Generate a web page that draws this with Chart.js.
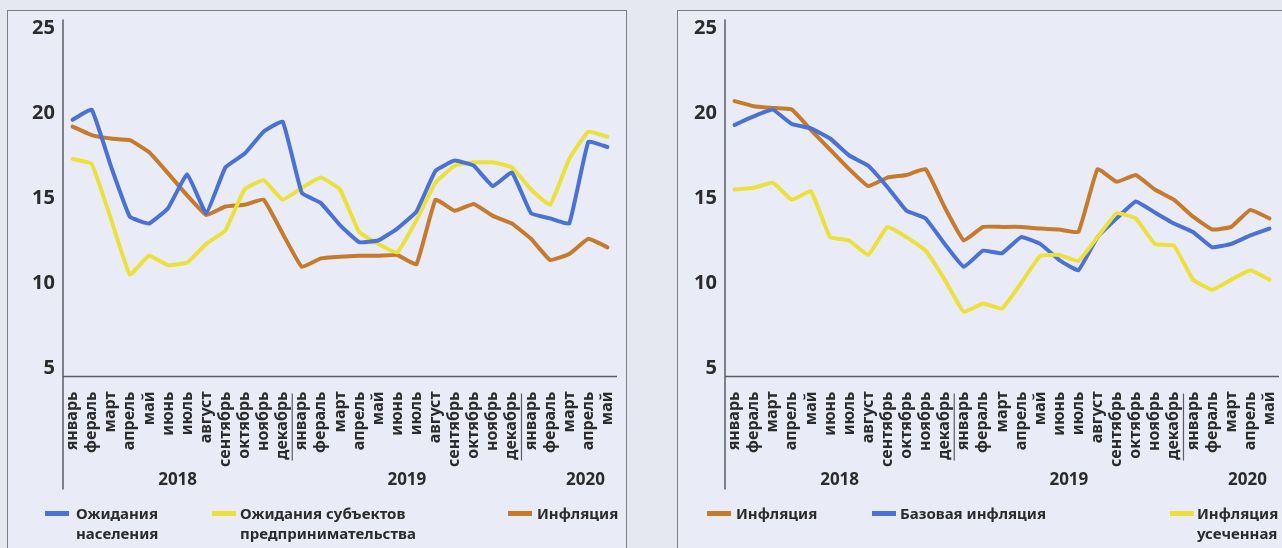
<!DOCTYPE html>
<html lang="ru">
<head>
<meta charset="utf-8">
<script src="https://cdn.jsdelivr.net/npm/chart.js@4.4.1/dist/chart.umd.min.js"></script>
<style>
  body { margin: 0; width: 1282px; height: 548px; background: #e6e8f1; overflow: hidden; position: relative;
         font-family: "Noto Sans", sans-serif; color: #2b2b2b; }
  .panel { position: absolute; background: #e9ebf6; border: 1px solid #7a7c86; }
  canvas { position: absolute; }
  .lg { position: absolute; font-weight: bold; font-size: 15px; line-height: 20px; white-space: nowrap; }
  .sw { position: absolute; height: 5px; width: 24px; }
</style>
</head>
<body>
<div class="panel" style="left:7px; top:10px; width:618px; height:545px;"></div>
<div class="panel" style="left:677px; top:10px; width:620px; height:545px;"></div>

<canvas id="chartL" width="617" height="537" style="left:8px; top:11px;"></canvas>
<canvas id="chartR" width="604" height="537" style="left:678px; top:11px;"></canvas>

<!-- legends -->
<div class="sw" style="left:45px; top:511px; background:#4a72d6;"></div>
<div class="lg" style="left:76px; top:503px;">Ожидания<br>населения</div>
<div class="sw" style="left:212px; top:511px; background:#ece13c;"></div>
<div class="lg" style="left:240px; top:503px;">Ожидания субъектов<br>предпринимательства</div>
<div class="sw" style="left:508px; top:511px; background:#c67a2c;"></div>
<div class="lg" style="left:537px; top:503px;">Инфляция</div>

<div class="sw" style="left:707px; top:511px; background:#c67a2c;"></div>
<div class="lg" style="left:736px; top:503px;">Инфляция</div>
<div class="sw" style="left:872px; top:511px; background:#4a72d6;"></div>
<div class="lg" style="left:900px; top:503px;">Базовая инфляция</div>
<div class="sw" style="left:1170px; top:511px; background:#ece13c;"></div>
<div class="lg" style="left:1197px; top:503px;">Инфляция<br>усеченная</div>

<script>
// month labels, January 2018 - May 2020
const months = ['январь', 'фераль', 'март', 'апрель', 'май', 'июнь', 'июль', 'август',
                'сентябрь', 'октябрь', 'ноябрь', 'декабрь',
                'январь', 'фераль', 'март', 'апрель', 'май', 'июнь', 'июль', 'август',
                'сентябрь', 'октябрь', 'ноябрь', 'декабрь',
                'январь', 'фераль', 'март', 'апрель', 'май'];
const years = ['2018', '2019', '2020'];
const yearStarts = [0, 12, 24];
const yearLabelAt = [5.5, 17.5, 26.85];
const yTicks = [5, 10, 15, 20, 25];

// left chart
const popExpect = [19.6, 20.2, 16.9, 13.9, 13.5, 14.4, 16.4, 14.1, 16.8, 17.6, 18.9, 19.5, 15.3, 14.7, 13.4,
                   12.4, 12.5, 13.2, 14.2, 16.6, 17.2, 16.9, 15.7, 16.5, 14.1, 13.8, 13.5, 18.3, 18.0];
const bizExpect = [17.3, 17.0, 13.8, 10.5, 11.6, 11.05, 11.2, 12.3, 13.1, 15.5, 16.05, 14.9, 15.6, 16.2, 15.5,
                   13.0, 12.3, 11.8, 13.7, 15.9, 16.9, 17.1, 17.1, 16.8, 15.5, 14.6, 17.3, 18.9, 18.6];
const inflationL = [19.2, 18.7, 18.5, 18.4, 17.7, 16.45, 15.15, 14.0, 14.5, 14.6, 14.9, 12.9, 10.95, 11.45, 11.55,
                    11.6, 11.6, 11.65, 11.1, 14.9, 14.25, 14.65, 13.95, 13.5, 12.6, 11.35, 11.7, 12.6, 12.1];

// right chart
const inflationR = [20.7, 20.4, 20.3, 20.2, 19.0, 17.85, 16.7, 15.7, 16.2, 16.35, 16.7, 14.45, 12.5, 13.3, 13.3,
                    13.3, 13.2, 13.15, 13.0, 16.7, 15.95, 16.35, 15.5, 14.9, 13.9, 13.15, 13.3, 14.3, 13.8];
const coreInfl = [19.3, 19.8, 20.2, 19.35, 19.1, 18.5, 17.5, 16.9, 15.65, 14.25, 13.8, 12.3, 10.95, 11.9, 11.75,
                  12.7, 12.3, 11.35, 10.75, 12.7, 13.8, 14.8, 14.15, 13.5, 13.0, 12.1, 12.3, 12.8, 13.2];
const truncInfl = [15.5, 15.6, 15.9, 14.9, 15.4, 12.7, 12.5, 11.65, 13.3, 12.7, 11.9, 10.2, 8.3, 8.8, 8.5,
                   10.0, 11.6, 11.65, 11.3, 12.7, 14.1, 13.8, 12.3, 12.2, 10.2, 9.6, 10.2, 10.75, 10.2];

const BLUE = '#4a72d6', YELLOW = '#ece13c', ORANGE = '#c67a2c';
const TEXT = '#2b2b2b', AXIS = '#5b5c63';
const FONT = '"Noto Sans", sans-serif';

// axis lines, year separators and year labels
const axesDecor = {
    id: 'axesDecor',
    afterDraw(chart) {
        const ctx = chart.ctx;
        const a = chart.chartArea;
        const x = chart.scales.x;
        ctx.save();
        ctx.strokeStyle = AXIS;
        ctx.lineWidth = 1.5;
        ctx.beginPath();
        ctx.moveTo(a.left, a.top);
        ctx.lineTo(a.left, a.bottom + 113);
        ctx.moveTo(a.left, a.bottom);
        ctx.lineTo(a.right, a.bottom);
        ctx.stroke();

        ctx.lineWidth = 1.2;
        yearStarts.slice(1).forEach(i => {
            const px = (x.getPixelForValue(i - 1) + x.getPixelForValue(i)) / 2;
            ctx.beginPath();
            ctx.moveTo(px, a.bottom + 17);
            ctx.lineTo(px, a.bottom + 84);
            ctx.stroke();
        });

        ctx.fillStyle = TEXT;
        ctx.font = 'bold 17px ' + FONT;
        ctx.textAlign = 'center';
        ctx.textBaseline = 'middle';
        years.forEach((y, k) => {
            ctx.fillText(y, x.getPixelForValue(yearLabelAt[k]), a.bottom + 104);
        });
        ctx.restore();
    }
};

function line(label, data, color) {
    return {
        label: label,
        data: data,
        borderColor: color,
        borderWidth: 4,
        pointRadius: 0,
        tension: 0.1,
        borderJoinStyle: 'round',
        borderCapStyle: 'round',
        fill: false
    };
}

function noPad(s) {
    s.paddingTop = 0;
    s.paddingBottom = 0;
    s.paddingLeft = 0;
    s.paddingRight = 0;
}

function makeChart(id, datasets, yWidth, padRight) {
    return new Chart(document.getElementById(id), {
        type: 'line',
        data: { labels: months, datasets: datasets },
        options: {
            responsive: false,
            animation: false,
            layout: { padding: { top: 8.5, right: padRight, bottom: 0, left: 0 } },
            scales: {
                x: {
                    offset: true,
                    grid: { display: false, drawTicks: false },
                    border: { display: false },
                    ticks: {
                        autoSkip: false,
                        minRotation: 90,
                        maxRotation: 90,
                        padding: 15,
                        color: TEXT,
                        font: { family: FONT, size: 16, weight: 'bold' }
                    },
                    afterFit: s => { s.height = 171.5; noPad(s); }
                },
                y: {
                    min: 4.5,
                    max: 25.5,
                    grid: { display: false, drawTicks: false },
                    border: { display: false },
                    afterBuildTicks: s => { s.ticks = yTicks.map(v => ({ value: v })); },
                    ticks: {
                        padding: 8,
                        color: TEXT,
                        font: { family: FONT, size: 20, weight: 'bold' }
                    },
                    afterFit: s => { s.width = yWidth; noPad(s); }
                }
            },
            plugins: {
                legend: { display: false },
                tooltip: { enabled: false }
            }
        },
        plugins: [axesDecor]
    });
}

makeChart('chartL', [
    line('Ожидания населения', popExpect, BLUE),
    line('Ожидания субъектов предпринимательства', bizExpect, YELLOW),
    line('Инфляция', inflationL, ORANGE)
], 55, 8);

makeChart('chartR', [
    line('Инфляция усеченная', truncInfl, YELLOW),
    line('Базовая инфляция', coreInfl, BLUE),
    line('Инфляция', inflationR, ORANGE)
], 47, 3);
</script>
</body>
</html>
